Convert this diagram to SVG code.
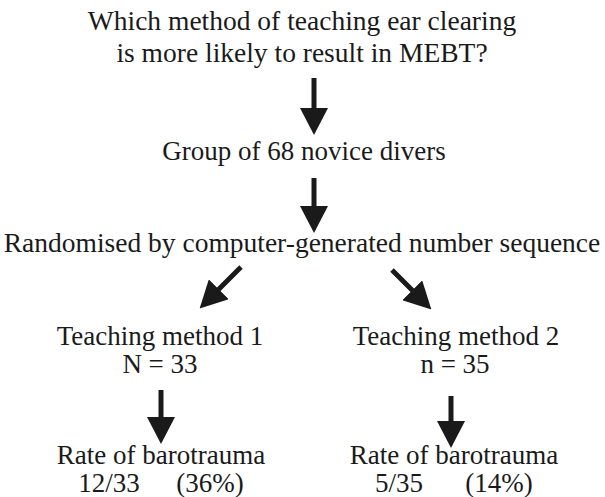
<svg xmlns="http://www.w3.org/2000/svg" width="605" height="497" viewBox="0 0 605 497">
<style>
text { font-family: "Liberation Serif", "Times New Roman", serif; font-size: 27px; fill: #1a1a1a; text-anchor: middle; }
.big { font-size: 27.5px; }
.arrow { stroke: #1a1a1a; stroke-width: 5; fill: none; }
</style>
<defs>
<marker id="head" viewBox="0 -14 27 28" refX="1" refY="0" markerWidth="27" markerHeight="28" markerUnits="userSpaceOnUse" orient="auto">
<path d="M0,-14 L27,0 L0,14 Z" fill="#1a1a1a"/>
</marker>
</defs>
<rect width="605" height="497" fill="#ffffff"/>
<g id="question">
<text class="big" x="302" y="30">Which method of teaching ear clearing</text>
<text class="big" x="302" y="62">is more likely to result in MEBT?</text>
</g>
<g id="group">
<text x="304" y="160">Group of 68 novice divers</text>
</g>
<g id="randomised">
<text class="big" x="302" y="252">Randomised by computer-generated number sequence</text>
</g>
<g id="method1">
<text x="160" y="345">Teaching method 1</text>
<text x="160" y="373">N = 33</text>
</g>
<g id="method2">
<text x="456" y="345">Teaching method 2</text>
<text x="455" y="373">n = 35</text>
</g>
<g id="rate1">
<text x="161" y="464">Rate of barotrauma</text>
<text x="109" y="492">12/33</text>
<text x="210" y="492">(36%)</text>
</g>
<g id="rate2">
<text x="454" y="464">Rate of barotrauma</text>
<text x="399" y="492">5/35</text>
<text x="499" y="492">(14%)</text>
</g>
<g id="connectors">
<line class="arrow" x1="314" y1="78" x2="314" y2="109" marker-end="url(#head)"/>
<line class="arrow" x1="314" y1="178" x2="314" y2="207" marker-end="url(#head)"/>
<line class="arrow" x1="241" y1="267" x2="218" y2="290" marker-end="url(#head)"/>
<line class="arrow" x1="392" y1="270" x2="413" y2="291" marker-end="url(#head)"/>
<line class="arrow" x1="161" y1="390" x2="161" y2="418" marker-end="url(#head)"/>
<line class="arrow" x1="451" y1="396" x2="451" y2="422" marker-end="url(#head)"/>
</g>
</svg>
